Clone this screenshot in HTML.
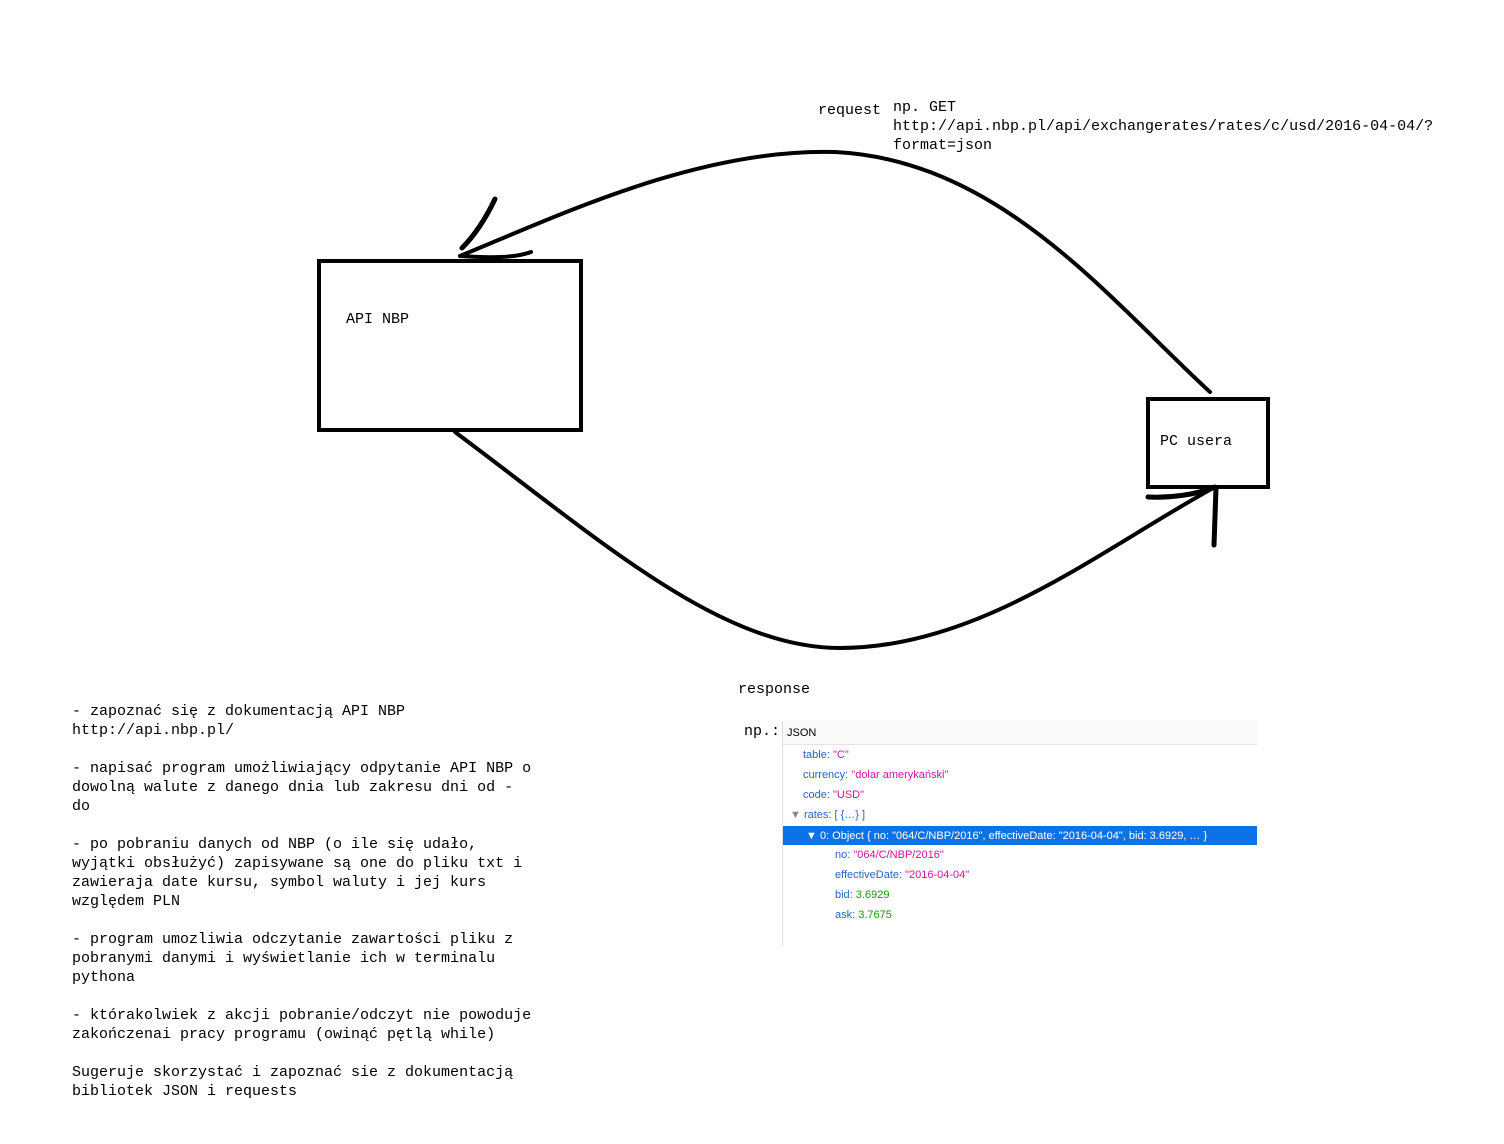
<!DOCTYPE html>
<html><head><meta charset="utf-8"><style>
body{margin:0;background:#fff;width:1504px;height:1144px;position:relative;overflow:hidden}
.m{position:absolute;font-family:"Liberation Mono",monospace;font-size:15px;line-height:19px;color:#000;white-space:pre}
.j{position:absolute;font-family:"Liberation Sans",sans-serif;font-size:11px;line-height:14px;white-space:pre;color:#2a62c9}
.s{color:#d1139e}.n{color:#199410}
</style></head><body>
<svg width="1504" height="1144" style="position:absolute;left:0;top:0" fill="none" stroke="#000" stroke-linecap="round">
<rect x="319" y="261" width="262" height="169" stroke-width="4"/>
<rect x="1148" y="399" width="120" height="88" stroke-width="4"/>
<path d="M1210 392 C1110 300 1000 160 835 152 C700 148 560 215 460 256" stroke-width="4"/>
<path d="M495 199 C485 220 475 235 462 248" stroke-width="5"/>
<path d="M460 256 C490 258 515 258 531 252" stroke-width="4"/>
<path d="M455 432 C600 540 720 648 840 648 C980 648 1100 550 1215 487" stroke-width="4"/>
<path d="M1148 497 C1170 498 1195 495 1215 487" stroke-width="5"/>
<path d="M1216 488 L1214 545" stroke-width="5"/>
</svg>
<div class="m" style="left:346px;top:310px">API NBP</div>
<div class="m" style="left:1160px;top:432px">PC usera</div>
<div class="m" style="left:818px;top:101px">request</div>
<div class="m" style="left:893px;top:98px">np. GET
http://api.nbp.pl/api/exchangerates/rates/c/usd/2016-04-04/?
format=json</div>
<div class="m" style="left:738px;top:680px">response</div>
<div class="m" style="left:744px;top:722px">np.:</div>
<div class="m" style="left:72px;top:702px">- zapoznać się z dokumentacją API NBP
http://api.nbp.pl/

- napisać program umożliwiający odpytanie API NBP o
dowolną walute z danego dnia lub zakresu dni od -
do

- po pobraniu danych od NBP (o ile się udało,
wyjątki obsłużyć) zapisywane są one do pliku txt i
zawieraja date kursu, symbol waluty i jej kurs
względem PLN

- program umozliwia odczytanie zawartości pliku z
pobranymi danymi i wyświetlanie ich w terminalu
pythona

- którakolwiek z akcji pobranie/odczyt nie powoduje
zakończenai pracy programu (owinąć pętlą while)

Sugeruje skorzystać i zapoznać sie z dokumentacją
bibliotek JSON i requests</div>
<div style="position:absolute;left:782px;top:721px;width:475px;height:23px;background:#f9f9f9;border-bottom:1px solid #e4e4e4"></div>
<div style="position:absolute;left:782px;top:721px;width:1px;height:225px;background:#e0e0e0"></div>
<div class="j" style="left:787px;top:726px;color:#000">JSON</div>
<div class="j" style="left:803px;top:748px">table: <span class="s">"C"</span></div>
<div class="j" style="left:803px;top:768px">currency: <span class="s">"dolar amerykański"</span></div>
<div class="j" style="left:803px;top:788px">code: <span class="s">"USD"</span></div>
<div class="j" style="left:790px;top:808px"><span style="color:#888">▼</span> rates: [ {…} ]</div>
<div style="position:absolute;left:783px;top:826px;width:474px;height:19px;background:#0b72e7"></div>
<div class="j" style="left:806px;top:829px;color:#fff">▼ 0: Object { no: "064/C/NBP/2016", effectiveDate: "2016-04-04", bid: 3.6929, … }</div>
<div class="j" style="left:835px;top:848px">no: <span class="s">"064/C/NBP/2016"</span></div>
<div class="j" style="left:835px;top:868px">effectiveDate: <span class="s">"2016-04-04"</span></div>
<div class="j" style="left:835px;top:888px">bid: <span class="n">3.6929</span></div>
<div class="j" style="left:835px;top:908px">ask: <span class="n">3.7675</span></div>
</body></html>
